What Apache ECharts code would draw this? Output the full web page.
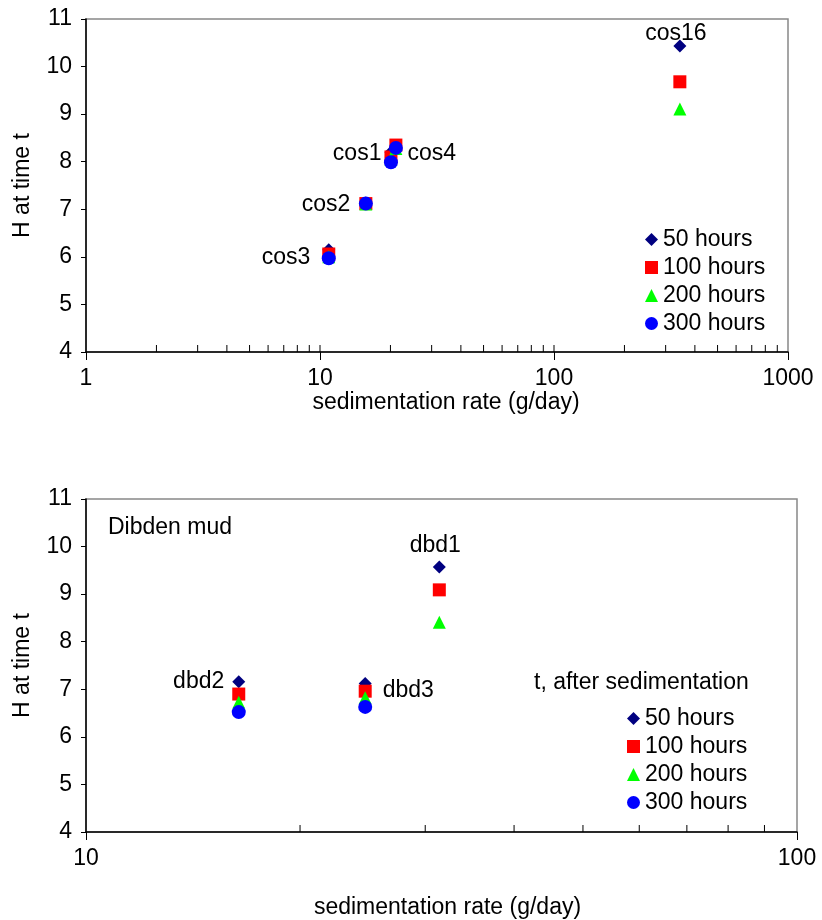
<!DOCTYPE html>
<html>
<head>
<meta charset="utf-8">
<script src="https://cdn.jsdelivr.net/npm/echarts@6/dist/echarts.min.js"></script>
<style>
  html, body { margin: 0; padding: 0; background: #fff; }
  #chart { width: 822px; height: 920px; }
</style>
</head>
<body>
<div id="chart"></div>
<script>
// Series names (time after sedimentation)
const seriesNames = ['50 hours', '100 hours', '200 hours', '300 hours'];

// Upper panel: cos runs
const cosSites = ['cos16', 'cos3', 'cos2', 'cos1', 'cos4'];
const cosRate  = [345, 10.9, 15.7, 20.1, 21.1];
const cosH50   = [10.43, 6.15, 7.13, 8.20, 8.30];
const cosH100  = [9.68, 6.06, 7.12, 8.10, 8.35];
const cosH200  = [9.11, 6.00, 7.11, 8.05, 8.28];
const cosH300  = [null, 5.97, 7.12, 7.99, 8.29];

// Lower panel: Dibden mud runs
const dbdSites = ['dbd2', 'dbd3', 'dbd1'];
const dbdRate  = [16.4, 24.7, 31.4];
const dbdH50   = [7.16, 7.12, 9.57];
const dbdH100  = [6.90, 6.96, 9.09];
const dbdH200  = [6.73, 6.82, 8.41];
const dbdH300  = [6.52, 6.63, null];

// Axis ranges and tick values
const yMin = 4, yMax = 11;
const topXRange = [1, 1000];
const bottomXRange = [10, 100];
const topXTicks = [2,3,4,5,6,7,8,9,10,20,30,40,50,60,70,80,90,100,200,300,400,500,600,700,800,900];
const bottomXTicks = [20,30,40,50,60,70,80,90];

const FONT = 'Liberation Sans, Arial, Helvetica, sans-serif';
const FS = 23;
const colors = ['#000080', '#FF0000', '#00FF00', '#0000FF'];
const symbols = ['diamond', 'rect', 'triangle', 'circle'];
const symbolSizes = [13, 13, 13, 14];

// Where each site label sits relative to its 50-hour marker
const siteLabels = {
  cos16: { position: 'top', distance: -6, offset: [-4, 0] },
  cos1:  { position: 'left', distance: 3, offset: [0, 1] },
  cos4:  { position: 'right', distance: 5, offset: [0, 6] },
  cos2:  { position: 'left', distance: 9, offset: [0, 2] },
  cos3:  { position: 'left', distance: 12, offset: [0, 8] },
  dbd1:  { position: 'top', distance: 3, offset: [-4, 0] },
  dbd2:  { position: 'left', distance: 8, offset: [0, 0] },
  dbd3:  { position: 'right', distance: 11, offset: [0, 7] }
};

function pointData(sites, rates, values, withLabels) {
  const out = [];
  sites.forEach((s, i) => {
    if (values[i] == null) return;
    const item = { value: [rates[i], values[i]] };
    if (withLabels && siteLabels[s]) {
      item.label = Object.assign({
        show: true, formatter: s, color: '#000', fontSize: FS, fontFamily: FONT
      }, siteLabels[s]);
    }
    out.push(item);
  });
  return out;
}

function panelSeries(gridIdx, sites, rates, cols) {
  return cols.map((vals, k) => ({
    name: seriesNames[k],
    type: 'scatter',
    xAxisIndex: gridIdx,
    yAxisIndex: gridIdx,
    symbol: symbols[k],
    symbolSize: symbolSizes[k],
    itemStyle: { color: colors[k], opacity: 1 },
    emphasis: { disabled: true },
    data: pointData(sites, rates, vals, k === 0),
    z: 3 + k
  }));
}

// Minor (and major inner) tick marks along the log x axes
function tickSeries(gridIdx, ticks) {
  return {
    type: 'custom',
    xAxisIndex: gridIdx,
    yAxisIndex: gridIdx,
    silent: true,
    z: 10,
    data: ticks.map(v => [v, yMin]),
    renderItem: function (params, api) {
      const p = api.coord([api.value(0), api.value(1)]);
      return {
        type: 'line',
        shape: { x1: p[0], y1: p[1], x2: p[0], y2: p[1] - 7 },
        style: { stroke: '#000', lineWidth: 1 }
      };
    }
  };
}

function xAxis(gridIdx, range, labelMargin, nameGap, namePadLeft) {
  return {
    type: 'log',
    logBase: 10,
    gridIndex: gridIdx,
    min: range[0],
    max: range[1],
    name: 'sedimentation rate (g/day)',
    nameLocation: 'middle',
    nameGap: nameGap,
    nameTextStyle: { color: '#000', fontSize: FS, fontFamily: FONT, padding: [0, 0, 0, namePadLeft] },
    axisLine: { show: true, onZero: false, lineStyle: { color: '#000', width: 1.5 } },
    axisTick: { show: true, inside: false, length: 8, lineStyle: { color: '#000', width: 1 } },
    axisLabel: {
      color: '#000', fontSize: FS, fontFamily: FONT, margin: labelMargin,
      formatter: v => String(Math.round(v))
    },
    splitLine: { show: false },
    minorTick: { show: false }
  };
}

function yAxis(gridIdx) {
  return {
    type: 'value',
    gridIndex: gridIdx,
    min: yMin,
    max: yMax,
    interval: 1,
    name: 'H at time t',
    nameLocation: 'middle',
    nameGap: 52,
    nameTextStyle: { color: '#000', fontSize: FS, fontFamily: FONT },
    axisLine: { show: true, lineStyle: { color: '#000', width: 1.5 } },
    axisTick: { show: true, inside: false, length: 5, lineStyle: { color: '#000', width: 1 } },
    axisLabel: { color: '#000', fontSize: FS, fontFamily: FONT, margin: 14 },
    splitLine: { show: false }
  };
}

function legend(left, top) {
  return {
    data: seriesNames,
    orient: 'vertical',
    left: left,
    top: top,
    itemWidth: 13,
    itemHeight: 13,
    itemGap: 5,
    selectedMode: false,
    textStyle: { color: '#000', fontSize: FS, fontFamily: FONT, padding: [0, 0, 0, 0] }
  };
}

const chart = echarts.init(document.getElementById('chart'), null, { renderer: 'canvas' });

chart.setOption({
  animation: false,
  backgroundColor: '#fff',
  grid: [
    { left: 86, top: 19, width: 702, height: 333, show: true, borderColor: '#888', borderWidth: 1.5, backgroundColor: 'transparent' },
    { left: 86, top: 499, width: 711, height: 333, show: true, borderColor: '#888', borderWidth: 1.5, backgroundColor: 'transparent' }
  ],
  xAxis: [
    xAxis(0, topXRange, 15, 31, 18),
    xAxis(1, bottomXRange, 15, 64, 12)
  ],
  yAxis: [yAxis(0), yAxis(1)],
  legend: [legend(640, 223), legend(622, 702)],
  graphic: [
    { type: 'text', x: 108, y: 528, style: { text: 'Dibden mud', fill: '#000', font: FS + 'px ' + FONT, verticalAlign: 'middle' } },
    { type: 'text', x: 534, y: 683, style: { text: 't, after sedimentation', fill: '#000', font: FS + 'px ' + FONT, verticalAlign: 'middle' } }
  ],
  series: [].concat(
    panelSeries(0, cosSites, cosRate, [cosH50, cosH100, cosH200, cosH300]),
    panelSeries(1, dbdSites, dbdRate, [dbdH50, dbdH100, dbdH200, dbdH300]),
    [tickSeries(0, topXTicks), tickSeries(1, bottomXTicks)]
  )
});
</script>
</body>
</html>
